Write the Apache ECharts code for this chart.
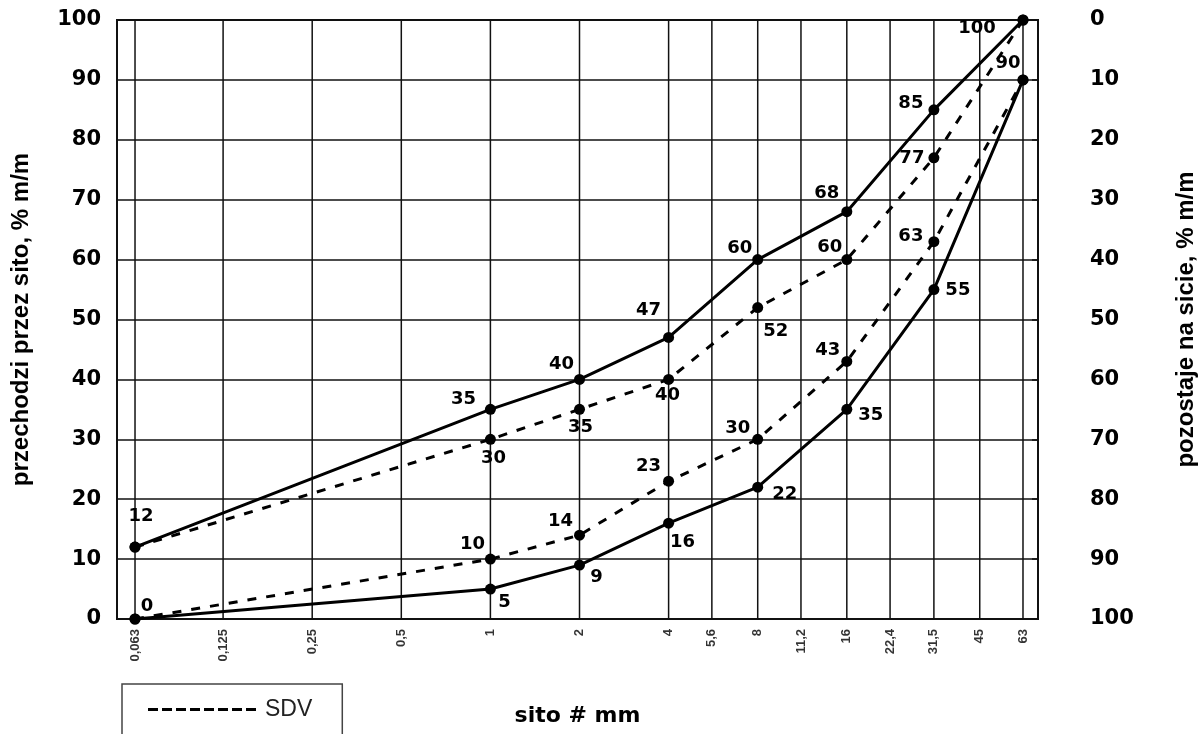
<!DOCTYPE html>
<html>
<head>
<meta charset="utf-8">
<script src="https://cdn.jsdelivr.net/npm/echarts@6/dist/echarts.min.js"></script>
<style>
html,body{margin:0;padding:0;background:#fff;}
#chart{width:1203px;height:734px;}
</style>
</head>
<body>
<div id="chart"></div>
<script>
// ---- data ----
const pointSieves = [0.063, 1, 2, 4, 8, 16, 31.5, 63];
const gridSieves = [0.063, 0.125, 0.25, 0.5, 1, 2, 4, 5.6, 8, 11.2, 16, 22.4, 31.5, 45, 63];
const sieveLabels = ['0,063', '0,125', '0,25', '0,5', '1', '2', '4', '5,6', '8', '11,2', '16', '22,4', '31,5', '45', '63'];
const upperLimit = [12, 35, 40, 47, 60, 68, 85, 100];
const lowerLimit = [0, 5, 9, 16, 22, 35, 55, 90];
const sdvUpper = [12, 30, 35, 40, 52, 60, 77, 100];
const sdvLower = [0, 10, 14, 23, 30, 43, 63, 90];

// ---- label placement (style only) ----
const offUpper = [[6,-31],[-27,-10],[-18,-15],[-20,-27],[-18,-11],[-20,-18],[-23,-7],[-46,8]];
const offLower = [null,[14,13],[17,12],[14,19],[27,7],[24,6],[24,1],null];
const offSdvUpper = [null,[3,19],[1,18],[-1,16],[18,24],[-17,-12],[-22,1],null];
const offSdvLower = [[12,-13],[-18,-15],[-19,-14],[-20,-15],[-20,-11],[-19,-11],[-23,-5],[-15,-17]];

const NUM_FONT = '"DejaVu Sans", sans-serif';
const NAME_FONT = 'Arial, "Liberation Sans", sans-serif';

function buildData(values, offsets) {
  return values.map((v, i) => {
    const off = offsets[i];
    const item = { value: [pointSieves[i], v] };
    if (off) {
      item.label = { show: true, position: 'inside', offset: off, align: 'center', verticalAlign: 'middle' };
    } else {
      item.label = { show: false };
    }
    return item;
  });
}

function lineSeries(name, values, offsets, dashed) {
  return {
    name: name,
    type: 'line',
    data: buildData(values, offsets),
    symbol: 'circle',
    symbolSize: 11,
    showAllSymbol: true,
    z: dashed ? 4 : 5,
    itemStyle: { color: '#000' },
    lineStyle: { color: '#000', width: 3, type: dashed ? [9, 10] : 'solid' },
    label: {
      show: true,
      color: '#000',
      fontFamily: NUM_FONT,
      fontWeight: 'bold',
      fontSize: 18,
      formatter: p => String(p.value[1])
    },
    emphasis: { disabled: true },
    animation: false
  };
}

// vertical sieve grid lines, drawn through the axes (from 0% to 100% at each sieve size)
const sieveLineSeries = gridSieves.map(v => ({
  name: 'sieve-' + v,
  type: 'line',
  data: [[v, 0], [v, 100]],
  symbol: 'none',
  silent: true,
  z: 1,
  lineStyle: { color: '#111', width: 1.5 },
  emphasis: { disabled: true },
  animation: false
}));

const chart = echarts.init(document.getElementById('chart'), null, { renderer: 'canvas' });

const option = {
  backgroundColor: '#fff',
  animation: false,
  grid: {
    left: 117, right: 165, top: 20, bottom: 115,
    outerBoundsMode: 'none',
    containLabel: false,
    show: true, borderColor: '#111', borderWidth: 2, backgroundColor: 'transparent'
  },
  legend: {
    data: [{ name: 'SDV', icon: 'path://M0,0h10v3h-10z M14,0h10v3h-10z M28,0h10v3h-10z M42,0h10v3h-10z M56,0h10v3h-10z M70,0h10v3h-10z M84,0h10v3h-10z M98,0h10v3h-10z' }],
    left: 122,
    top: 684,
    itemWidth: 112,
    itemHeight: 3,
    itemGap: 0,
    padding: [14, 30, 40, 26],
    borderColor: '#444',
    borderWidth: 1.5,
    backgroundColor: '#fff',
    selectedMode: false,
    itemStyle: { color: '#000' },
    textStyle: { color: '#222', fontFamily: NAME_FONT, fontSize: 23, padding: [0, 0, 0, 2] }
  },
  xAxis: {
    type: 'log',
    logBase: 2,
    min: 0.05476,
    max: 70.8,
    name: 'sito # mm',
    nameLocation: 'middle',
    nameGap: 86,
    nameTextStyle: { color: '#000', fontFamily: NUM_FONT, fontWeight: 'bold', fontSize: 22 },
    axisLine: { show: true, onZero: false, lineStyle: { color: '#111', width: 2 } },
    axisTick: { show: false },
    axisLabel: { show: false },
    splitLine: { show: false },
    minorTick: { show: false },
    minorSplitLine: { show: false }
  },
  yAxis: [
    {
      type: 'value',
      position: 'left',
      min: 0, max: 100, interval: 10,
      name: 'przechodzi przez sito, % m/m',
      nameLocation: 'middle',
      nameRotate: 90,
      nameGap: 84,
      nameTextStyle: { color: '#000', fontFamily: NAME_FONT, fontWeight: 'bold', fontSize: 24 },
      axisLine: { show: true, onZero: false, lineStyle: { color: '#111', width: 2 } },
      axisTick: { show: false },
      axisLabel: { color: '#000', fontFamily: NUM_FONT, fontWeight: 'bold', fontSize: 21, margin: 16 },
      splitLine: { show: true, lineStyle: { color: '#111', width: 1.5 } }
    },
    {
      type: 'value',
      position: 'right',
      inverse: true,
      min: 0, max: 100, interval: 10,
      name: 'pozostaje na sicie, % m/m',
      nameLocation: 'middle',
      nameRotate: 90,
      nameGap: 136,
      nameTextStyle: { color: '#000', fontFamily: NAME_FONT, fontWeight: 'bold', fontSize: 24 },
      axisLine: { show: true, onZero: false, lineStyle: { color: '#111', width: 2 } },
      axisTick: { show: true, inside: true, length: 6, lineStyle: { color: '#111', width: 1.5 } },
      axisLabel: { color: '#000', fontFamily: NUM_FONT, fontWeight: 'bold', fontSize: 21, margin: 52, align: 'left' },
      splitLine: { show: false }
    }
  ],
  series: sieveLineSeries.concat([
    {
      name: 'sieve-labels',
      type: 'scatter',
      data: gridSieves.map(v => [v, 0]),
      symbolSize: 0,
      silent: true,
      z: 1,
      label: {
        show: true,
        position: 'bottom',
        distance: 10,
        rotate: 90,
        align: 'right',
        verticalAlign: 'middle',
        color: '#000',
        fontFamily: '"Liberation Sans Narrow", "Liberation Sans", Arial, sans-serif',
        fontWeight: 'bold',
        fontSize: 13,
        formatter: p => sieveLabels[p.dataIndex]
      },
      emphasis: { disabled: true },
      animation: false
    },
    lineSeries('granica górna', upperLimit, offUpper, false),
    lineSeries('granica dolna', lowerLimit, offLower, false),
    lineSeries('SDV', sdvUpper, offSdvUpper, true),
    lineSeries('SDV', sdvLower, offSdvLower, true)
  ])
};

chart.setOption(option);
</script>
</body>
</html>
